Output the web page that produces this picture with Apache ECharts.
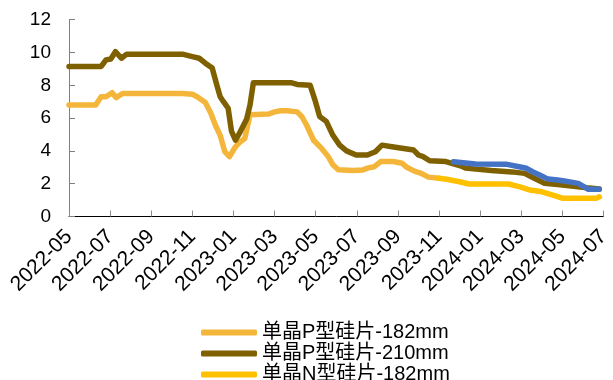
<!DOCTYPE html>
<html>
<head>
<meta charset="utf-8">
<script src="https://cdn.jsdelivr.net/npm/echarts@6/dist/echarts.min.js"></script>
<style>
  html, body { margin: 0; padding: 0; background: #fff; }
  #chart { width: 613px; height: 380px; }
</style>
</head>
<body>
<div id="chart"></div>
<script>
// Wafer prices (yuan/piece), sampled at turning points
const seriesNames = ['单晶P型硅片-182mm', '单晶P型硅片-210mm', '单晶N型硅片-182mm', '单晶N型硅片-210mm'];
const seriesColors = ['#F4B63A', '#7F6000', '#FFC000', '#4472C4'];

const p182 = [
  ['2022-05-01', 6.8], ['2022-06-10', 6.8], ['2022-06-18', 7.3], ['2022-06-25', 7.3],
  ['2022-07-04', 7.55], ['2022-07-10', 7.25], ['2022-07-20', 7.5], ['2022-10-17', 7.5],
  ['2022-11-01', 7.45], ['2022-11-08', 7.3], ['2022-11-20', 6.95], ['2022-11-28', 6.3],
  ['2022-12-05', 5.55], ['2022-12-12', 4.95], ['2022-12-19', 3.95], ['2022-12-26', 3.65],
  ['2023-01-04', 4.25], ['2023-01-11', 4.55], ['2023-01-18', 4.75], ['2023-01-26', 6.2],
  ['2023-02-21', 6.25], ['2023-03-01', 6.38], ['2023-03-10', 6.45], ['2023-03-20', 6.45],
  ['2023-04-04', 6.38], ['2023-04-11', 6.08], ['2023-04-18', 5.55], ['2023-04-28', 4.65],
  ['2023-05-10', 4.15], ['2023-05-20', 3.65], ['2023-05-27', 3.15], ['2023-06-04', 2.85],
  ['2023-06-25', 2.8], ['2023-07-10', 2.83], ['2023-07-17', 2.95], ['2023-07-27', 3.03],
  ['2023-08-06', 3.35], ['2023-08-25', 3.35], ['2023-09-07', 3.25], ['2023-09-14', 3.0],
  ['2023-09-26', 2.75], ['2023-10-04', 2.65], ['2023-10-16', 2.4], ['2023-11-01', 2.33]
];

const p210 = [
  ['2022-05-01', 9.15], ['2022-06-18', 9.15], ['2022-06-25', 9.55], ['2022-07-02', 9.6],
  ['2022-07-09', 10.05], ['2022-07-18', 9.65], ['2022-07-26', 9.9], ['2022-10-17', 9.9],
  ['2022-11-01', 9.75], ['2022-11-11', 9.65], ['2022-11-20', 9.35], ['2022-11-30', 9.05],
  ['2022-12-07', 8.0], ['2022-12-12', 7.3], ['2022-12-17', 7.0], ['2022-12-24', 6.6],
  ['2022-12-29', 5.2], ['2023-01-04', 4.65], ['2023-01-11', 5.15], ['2023-01-21', 5.95],
  ['2023-01-26', 6.8], ['2023-01-31', 8.15], ['2023-03-27', 8.15], ['2023-04-04', 8.05],
  ['2023-04-23', 8.0], ['2023-04-30', 7.1], ['2023-05-07', 6.1], ['2023-05-17', 5.8],
  ['2023-05-27', 4.95], ['2023-06-06', 4.35], ['2023-06-16', 4.0], ['2023-06-30', 3.75],
  ['2023-07-17', 3.75], ['2023-07-29', 3.95], ['2023-08-08', 4.35], ['2023-08-23', 4.25],
  ['2023-09-24', 4.05], ['2023-10-01', 3.75], ['2023-10-08', 3.65], ['2023-10-18', 3.4],
  ['2023-11-11', 3.35], ['2023-12-05', 3.05], ['2023-12-10', 2.95], ['2024-01-18', 2.8],
  ['2024-02-17', 2.72], ['2024-03-06', 2.63], ['2024-03-20', 2.35], ['2024-04-05', 2.02],
  ['2024-04-24', 1.95], ['2024-05-18', 1.85], ['2024-06-07', 1.75], ['2024-06-25', 1.68]
];

const n182 = [
  ['2023-11-01', 2.33], ['2023-11-12', 2.27], ['2023-12-01', 2.12], ['2023-12-15', 1.98],
  ['2024-02-12', 1.98], ['2024-02-27', 1.82], ['2024-03-16', 1.6], ['2024-03-31', 1.52],
  ['2024-04-17', 1.31], ['2024-05-01', 1.12], ['2024-06-21', 1.12], ['2024-06-25', 1.2]
];

const n210 = [
  ['2023-11-22', 3.34], ['2023-12-25', 3.2], ['2024-02-10', 3.18], ['2024-02-27', 3.03],
  ['2024-03-09', 2.94], ['2024-03-18', 2.73], ['2024-03-28', 2.55], ['2024-04-10', 2.28],
  ['2024-04-24', 2.22], ['2024-05-04', 2.16], ['2024-05-25', 2.02], ['2024-06-09', 1.66],
  ['2024-06-25', 1.66]
];

// x axis runs in months counted from 2022-05
const startYear = 2022, startMonth = 5;
const monthSpan = 26;   // 2022-05 .. 2024-07
const yMax = 12, yStep = 2;

function monthPos(dateStr) {
  const [y, m, d] = dateStr.split('-').map(Number);
  const daysInMonth = new Date(y, m, 0).getDate();
  return (y - startYear) * 12 + (m - startMonth) + (d - 1) / daysInMonth;
}
function monthLabel(v) {
  const idx = Math.round(v) + startMonth - 1;
  const y = startYear + Math.floor(idx / 12);
  const m = (idx % 12) + 1;
  return y + '-' + (m < 10 ? '0' + m : m);
}
const toPoints = arr => arr.map(([d, v]) => [monthPos(d), v]);

const allData = [p182, p210, n182, n210];
const font = '"Liberation Sans", Arial, "Noto Sans CJK SC", sans-serif';

const chart = echarts.init(document.getElementById('chart'), null, { renderer: 'canvas' });
chart.setOption({
  animation: false,
  backgroundColor: '#ffffff',
  grid: { left: 69, right: 0, top: 19.7, bottom: 163.5, containLabel: false },
  xAxis: {
    type: 'value',
    min: 0, max: monthSpan, interval: 2,
    axisLine: { show: true, lineStyle: { color: '#000', width: 1 } },
    axisTick: { show: true, inside: true, length: 6, lineStyle: { color: '#8c8c8c' } },
    splitLine: { show: false },
    axisLabel: {
      rotate: 45, margin: 17, fontSize: 21, color: '#000', fontFamily: font,
      formatter: monthLabel, showMaxLabel: true, showMinLabel: true
    }
  },
  yAxis: {
    type: 'value',
    min: 0, max: yMax, interval: yStep,
    axisLine: { show: true, lineStyle: { color: '#7f7f7f', width: 1 } },
    axisTick: { show: true, inside: true, length: 6, lineStyle: { color: '#7f7f7f' } },
    splitLine: { show: false },
    axisLabel: { margin: 18, fontSize: 19, color: '#000', fontFamily: font }
  },
  legend: {
    data: seriesNames.slice(0, 3),
    orient: 'vertical',
    left: 196, top: 317,
    height: 90,
    icon: 'roundRect',
    itemWidth: 56, itemHeight: 6,
    itemGap: 0,
    textStyle: { fontSize: 20, lineHeight: 21, color: '#000', fontFamily: font }
  },
  series: allData.map((arr, i) => ({
    name: seriesNames[i],
    type: 'line',
    data: toPoints(arr),
    symbol: 'none',
    smooth: false,
    color: seriesColors[i],
    lineStyle: { width: 5.5, color: seriesColors[i], cap: 'round', join: 'round' }
  }))
});
</script>
</body>
</html>
